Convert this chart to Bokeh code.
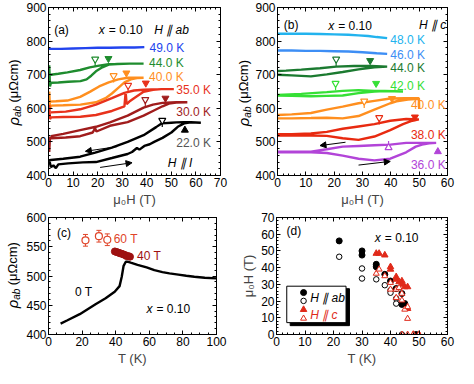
import math
from bokeh.plotting import figure
from bokeh.layouts import row, column
from bokeh.models import (Range1d, LinearAxis, SingleIntervalTicker, Label, Arrow,
                          NormalHead, Whisker, TeeHead, ColumnDataSource)
from bokeh.embed import file_html
from bokeh.resources import INLINE

FONT = "Liberation Sans"

# ---------------- Panel (a): H || ab, field sweeps (up then down) ----------------
a_h49 = [0, 5, 10, 15, 20, 25, 30, 35, 39]
a_r49 = [777, 777, 778, 779, 780, 780, 781, 781, 782]

a_h44 = [0, 0.3, 0.6, 1, 4, 8, 13, 15.5, 17.4, 19.3, 21.9, 24.5, 28, 33, 38.7,
         33, 28, 24.5, 20.6, 16.8, 12.9, 7.7, 4, 1, 0]
a_r44 = [700, 728, 665, 676, 677, 679, 681, 686, 697, 710, 722, 730, 732, 733, 733,
         733, 732, 731, 727, 722, 714, 707, 703, 700, 698]

a_h40 = [0, 0.3, 0.6, 1, 6, 13, 19.3, 23.2, 25.8, 28.4, 30.9, 33.5, 36, 38.7,
         36, 32.2, 28.4, 24.5, 20.6, 16.8, 12.9, 7.7, 3, 0.5]
a_r40 = [615, 650, 600, 608, 609, 611, 618, 630, 644, 661, 677, 686, 690, 691,
         691, 691, 686, 677, 665, 649, 634, 623, 621, 620]

a_h35 = [0, 0.3, 0.6, 1, 6, 13, 19.3, 25.8, 30.9, 31.4, 31.8, 32.9, 34.8, 38.7, 42.5, 46, 51,
         46, 42, 38.7, 34.8, 30.9, 25.8, 19.3, 12.9, 7, 1]
a_r35 = [580, 610, 568, 573, 574, 575, 580, 592, 606, 648, 612, 620, 630, 649, 655, 657, 657,
         657, 656, 655, 653, 646, 630, 611, 597, 590, 588]

a_h30 = [0, 0.3, 0.6, 1, 7, 12.9, 18, 19, 19.5, 25, 32.2, 38.7, 42.5, 46.4, 49, 52, 56.5,
         52, 48, 46.4, 42.5, 38.7, 32.2, 25, 19.3, 12.9, 6, 1]
a_r30 = [510, 470, 515, 511, 513, 517, 528, 540, 531, 548, 559, 578, 592, 606, 614, 617, 618,
         618, 617, 616, 611, 602, 578, 558, 545, 535, 524, 517]

a_h22 = [0, 0.5, 1, 2, 3, 4, 8, 14, 19.3, 25.8, 32.2, 34, 36, 37, 39, 41.2, 43, 46.4, 50,
         52.6, 55.2, 58, 62,
         58, 55, 52, 50, 46, 43.8, 38.7, 32.2, 25.8, 19, 12.9, 6, 1, 0]
a_r22 = [437, 440, 425, 430, 422, 433, 436, 439, 440, 452, 464, 470, 482, 477, 488, 493, 500,
         512, 528, 545, 555, 558, 557,
         559, 559, 558, 557, 555, 544, 520, 500, 483, 468, 456, 450, 446, 445]

a_open_h = [19, 26.5, 32.4, 39.4, 46.3]
a_open_r = [746, 697, 668, 626, 564]
a_fill_h = [24.4, 31.7, 39.6, 47.6]
a_fill_r = [748, 705, 675, 630]
a_up_h = [55.5]
a_up_r = [535]

a_temps = ["49.0 K", "44.0 K", "40.0 K", "35.0 K", "30.0 K", "22.0 K"]
a_colors = ["#2244ee", "#1e8c2e", "#ff8f1f", "#e8321c", "#a01c1c", "black"]
a_label_colors = ["#2244ee", "#1e8c2e", "#ff8f1f", "#e8321c", "#a01c1c", "#555555"]
a_label_h = [41.1, 40.9, 40.9, 52, 52, 52]
a_label_r = [780, 735, 693, 653, 590, 498]

# ---------------- Panel (b): H || c ----------------
b_h48 = [0, 5, 10, 15, 20, 25, 28.6, 32, 35, 38.7]
b_r48 = [822, 822, 822, 821, 820, 819, 817, 815, 812, 809]

b_h46 = [0, 5, 10, 15, 20, 25, 30, 35, 38.7]
b_r46 = [772, 772, 771, 771, 770, 769, 767, 764, 762]

b_h44 = [0, 5, 11.8, 17.4, 23, 28.6, 34.2, 38.7, 33, 27, 20.7, 15, 8.4, 3, 0]
b_r44 = [700, 698, 695, 701, 708, 716, 722, 724, 726, 726, 724, 719, 715, 712, 711]

b_h42 = [0, 5, 11.8, 17.4, 23, 28.6, 34.2, 38, 44.3, 38, 34.2, 28.6, 23, 17.4, 8.4, 0]
b_r42 = [638, 637, 636, 637, 638, 645, 650, 651, 650, 652, 652, 654, 652, 648, 643, 640]

b_h40 = [0, 5, 11.8, 17.4, 23, 28.6, 34.2, 39.8, 42, 46, 49.9, 50, 49.9,
         45, 39.8, 34.2, 28.6, 23, 17.4, 11.8, 5, 0]
b_r40 = [570, 570, 571, 572, 570, 577, 596, 615, 621, 626, 628, 598, 630,
         630, 629, 622, 615, 605, 596, 586, 582, 580]

b_h38 = [0, 5, 11.8, 17.4, 23, 28.6, 34.2, 39.8, 44.3, 47.6, 49.9,
         45.4, 39.8, 34.2, 28.6, 23, 17.4, 11.8, 5, 0]
b_r38 = [519, 519, 519, 518, 511, 506, 516, 535, 553, 563, 567,
         568, 563, 553, 546, 539, 530, 525, 523, 523]

b_h36 = [0, 5, 11.8, 17.4, 23, 28.6, 34.2, 39.8, 45.4, 48.8, 51, 53.5, 56,
         51, 45.4, 39.8, 34.2, 28.6, 23, 17.4, 11.8, 5, 0]
b_r36 = [469, 469, 469, 467, 459, 450, 445, 450, 469, 486, 492, 496, 497,
         497, 497, 492, 490, 488, 486, 478, 471, 471, 471]

b_open_h = [20.7, 20.5, 30.6, 35.9]
b_open_r = [746, 674, 621, 572]
b_fill_h = [32.7, 34.8, 40.4, 48.5]
b_fill_r = [742, 674, 629, 574]
b_up_open_h = [39.2]
b_up_open_r = [483]
b_up_fill_h = [56.6]
b_up_fill_r = [471]

b_temps = ["48.0 K", "46.0 K", "44.0 K", "42.0 K", "40.0 K", "38.0 K", "36.0 K"]
b_colors = ["#22b3ee", "#3d8ef5", "#1b7a30", "#35e035", "#ff8f1f", "#e82a10", "#b244d8"]
b_label_h = [39.8, 39.8, 39.8, 39.8, 47.1, 47.1, 47.1]
b_label_r = [803, 759, 721, 666, 610, 520, 431]

# ---------------- Panel (c): rho(T) ----------------
c_t0 = [7.2, 11, 18.6, 28, 34, 39.4, 42.3, 43.6, 44.7, 46, 47, 48.9, 53, 58.4, 63, 67.8,
        72, 77.3, 82, 86.8, 93, 100]
c_r0 = [418.7, 424, 434.7, 451.8, 462, 473, 482.7, 498.7, 517.4, 524.3, 524.5, 522.7, 519,
        514.7, 510, 506.7, 504.5, 502.4, 500.5, 498.7, 497, 496]
c_t40 = [39.5, 40.5, 41.5, 42.5, 43.5, 44.5, 45.5, 46.5, 47.5, 48.5]
c_r40 = [542, 541, 540, 539, 538, 537, 536, 534, 534, 533]
c_t60 = [22, 30, 35]
c_r60 = [561, 568, 562]
c_e60 = [10, 10, 10]

# ---------------- Panel (d): phase diagram ----------------
d_ab_fill_t = [22, 30, 30, 35, 35, 38, 40, 42, 44, 44, 45, 49]
d_ab_fill_h = [56, 50, 47.5, 42, 40.5, 36, 32, 27.5, 24.5, 18, 18.5, 0]
d_ab_open_t = [22, 30, 30, 35, 38, 40, 40, 42, 42, 44]
d_ab_open_h = [46.5, 39.5, 33.5, 33, 29.5, 26.5, 25, 21.5, 18.5, 0]
d_c_fill_t = [35, 36, 38, 40, 40, 42, 42, 43, 44, 44, 45, 46, 46, 48, 50]
d_c_fill_h = [48.5, 48.5, 47.5, 40.5, 39, 34.5, 33, 31.5, 32, 30, 28.5, 28.5, 15.5, 0, 0]
d_c_open_t = [35, 36, 38, 40, 40, 42, 42, 43, 44, 44, 45, 46, 46, 44, 46, 48, 50]
d_c_open_h = [36.5, 39, 35, 31, 27, 27, 22, 28, 24.5, 20.5, 15, 16.5, 9.5, 0, 0, 0, 0]

RED = "#e02a1a"
LW = 23  # width of the strip holding the rotated y label
CURVE_W = 2.4


def style(p, xint, xminor, yint, yminor):
    p.outline_line_color = "black"
    p.outline_line_width = 1
    p.grid.visible = False
    p.background_fill_color = "white"
    p.border_fill_color = "white"
    bottom = p.below[0]
    left = p.left[0]
    bottom.ticker = SingleIntervalTicker(interval=xint, num_minor_ticks=xminor)
    left.ticker = SingleIntervalTicker(interval=yint, num_minor_ticks=yminor)
    top = LinearAxis(ticker=SingleIntervalTicker(interval=xint, num_minor_ticks=xminor))
    right = LinearAxis(ticker=SingleIntervalTicker(interval=yint, num_minor_ticks=yminor))
    p.add_layout(top, "above")
    p.add_layout(right, "right")
    for ax in [bottom, left, top, right]:
        ax.major_tick_in = 4
        ax.major_tick_out = 0
        ax.minor_tick_in = 2
        ax.minor_tick_out = 0
        ax.axis_line_color = "black"
        ax.major_tick_line_color = "black"
        ax.minor_tick_line_color = "black"
        ax.major_label_text_font = FONT
        ax.major_label_text_font_size = "12px"
        ax.major_label_text_color = "black"
        ax.major_label_standoff = 2
        ax.axis_label_text_font = FONT
        ax.axis_label_text_font_size = "13px"
        ax.axis_label_text_font_style = "normal"
        ax.axis_label_standoff = 2
    for ax in [top, right]:
        ax.major_label_text_font_size = "1px"
        ax.major_label_text_color = None
        ax.major_label_standoff = 0
    return bottom, left


def txt(p, x, y, text, color="black", size="12px", style_="normal", align="left", xo=0):
    p.add_layout(Label(x=x, y=y, text=text, text_color=color, text_font=FONT,
                       text_font_size=size, text_font_style=style_, text_align=align,
                       text_baseline="middle", x_offset=xo))


def xeq(p, x, y, color="black"):
    txt(p, x, y, "x", color, style_="italic")
    txt(p, x, y, "= 0.10", color, xo=10)


def label_strip(height, yr, top, bottom, xc, yc):
    """Narrow figure left of a panel carrying the rotated 'rho_ab (uOhm cm)' label."""
    s = figure(width=LW, height=height, x_range=Range1d(0, LW), y_range=Range1d(*yr),
               output_backend="svg", toolbar_location=None,
               x_axis_location=None, y_axis_location=None,
               min_border_left=0, min_border_right=0, min_border_top=top,
               min_border_bottom=bottom)
    s.outline_line_color = None
    s.grid.visible = False
    s.background_fill_color = "white"
    s.border_fill_color = "white"
    common = dict(x=xc, y=yc, angle=math.pi / 2, text_baseline="middle", text_align="left",
                  text_font=FONT, text_color="black")
    s.add_layout(Label(text="ρ", text_font_size="15px", text_font_style="italic",
                       y_offset=-34, **common))
    s.add_layout(Label(text="ab", text_font_size="10px", text_font_style="italic",
                       y_offset=-25.5, x_offset=4, **common))
    s.add_layout(Label(text="(μΩcm)", text_font_size="13px", y_offset=-11, **common))
    return s


def arrow(p, x0, y0, x1, y1):
    p.add_layout(Arrow(end=NormalHead(size=6, fill_color="black", line_color="black"),
                       x_start=x0, y_start=y0, x_end=x1, y_end=y1,
                       line_color="black", line_width=1))


def open_marker(p, xs, ys, color, marker="inverted_triangle", stem=-20):
    # pin-like open marker: open triangle with a short stem towards the curve
    p.segment(x0=xs, y0=ys, x1=xs, y1=[y + stem for y in ys], line_color=color,
              line_width=1.2)
    p.scatter(xs, ys, marker=marker, size=7, fill_color="white", line_color=color,
              line_width=1.2)


# ================= (a) =================
pa = figure(width=229 - LW, height=209, x_range=Range1d(0, 70), y_range=Range1d(400, 900),
            output_backend="svg", toolbar_location=None,
            min_border_left=45 - LW, min_border_right=9, min_border_top=7, min_border_bottom=32)
ax_b, ax_l = style(pa, 10, 5, 100, 5)
ax_b.axis_label = "μ₀H (T)"
a_curves = [(a_h49, a_r49), (a_h44, a_r44), (a_h40, a_r40), (a_h35, a_r35),
            (a_h30, a_r30), (a_h22, a_r22)]
for (hh, rr), col in zip(a_curves, a_colors):
    pa.line(hh, rr, line_color=col, line_width=CURVE_W)
for i, (hh, rr) in enumerate(zip(a_open_h, a_open_r)):
    open_marker(pa, [hh], [rr], a_colors[i + 1])
for i, (hh, rr) in enumerate(zip(a_fill_h, a_fill_r)):
    pa.scatter([hh], [rr], marker="inverted_triangle", size=7, fill_color=a_colors[i + 1],
               line_color=a_colors[i + 1])
pa.scatter(a_up_h, a_up_r, marker="triangle", size=7, fill_color="black", line_color="black")
for t, c, hh, rr in zip(a_temps, a_label_colors, a_label_h, a_label_r):
    txt(pa, hh, rr, t, c)
txt(pa, 2.3, 832, "(a)")
xeq(pa, 20.5, 832)
txt(pa, 43, 832, "H ∥ ab", style_="italic")
txt(pa, 48.5, 437, "H ∥ I", style_="italic")
arrow(pa, 28, 486, 15, 472)
arrow(pa, 21, 424, 34, 438)
la = label_strip(209, (400, 900), 7, 32, 13, 650)

# ================= (b) =================
pb = figure(width=229 - LW, height=209, x_range=Range1d(0, 60), y_range=Range1d(400, 900),
            output_backend="svg", toolbar_location=None,
            min_border_left=47 - LW, min_border_right=11, min_border_top=7, min_border_bottom=32)
ax_b, ax_l = style(pb, 10, 5, 100, 5)
ax_b.axis_label = "μ₀H (T)"
b_curves = [(b_h48, b_r48), (b_h46, b_r46), (b_h44, b_r44), (b_h42, b_r42),
            (b_h40, b_r40), (b_h38, b_r38), (b_h36, b_r36)]
for (hh, rr), col in zip(b_curves, b_colors):
    pb.line(hh, rr, line_color=col, line_width=CURVE_W)
for i, (hh, rr) in enumerate(zip(b_open_h, b_open_r)):
    open_marker(pb, [hh], [rr], b_colors[i + 2])
for i, (hh, rr) in enumerate(zip(b_fill_h, b_fill_r)):
    pb.scatter([hh], [rr], marker="inverted_triangle", size=7, fill_color=b_colors[i + 2],
               line_color=b_colors[i + 2])
open_marker(pb, b_up_open_h, b_up_open_r, b_colors[6], marker="triangle", stem=20)
pb.scatter(b_up_fill_h, b_up_fill_r, marker="triangle", size=7, fill_color=b_colors[6],
           line_color=b_colors[6])
for t, c, hh, rr in zip(b_temps, b_colors, b_label_h, b_label_r):
    txt(pb, hh, rr, t, c)
txt(pb, 2.2, 847, "(b)")
xeq(pb, 17.9, 844)
txt(pb, 49.9, 847, "H ∥ c", style_="italic")
arrow(pb, 24, 499, 15, 489)
arrow(pb, 28.6, 431, 39.8, 442)
lb = label_strip(209, (400, 900), 7, 32, 14, 648)

# ================= (c) =================
pc = figure(width=229 - LW, height=159, x_range=Range1d(0, 100), y_range=Range1d(400, 600),
            output_backend="svg", toolbar_location=None,
            min_border_left=46 - LW, min_border_right=13, min_border_top=8, min_border_bottom=31)
ax_b, ax_l = style(pc, 20, 4, 50, 5)
ax_b.axis_label = "T (K)"
pc.line(c_t0, c_r0, line_color="black", line_width=2.4)
pc.scatter(c_t40, c_r40, marker="circle", size=7, fill_color="#9e1111", line_color="#9e1111")
src60 = ColumnDataSource(dict(t=c_t60, r=c_r60,
                              up=[r + e for r, e in zip(c_r60, c_e60)],
                              lo=[r - e for r, e in zip(c_r60, c_e60)]))
pc.add_layout(Whisker(base="t", upper="up", lower="lo", source=src60, dimension="height",
                      line_color="#e0452a", line_width=1,
                      upper_head=TeeHead(size=5, line_color="#e0452a", line_width=1),
                      lower_head=TeeHead(size=5, line_color="#e0452a", line_width=1)))
pc.scatter("t", "r", source=src60, marker="circle", size=7, fill_color="white",
           line_color="#e0452a", line_width=1.2)
txt(pc, 5, 574, "(c)")
txt(pc, 38.8, 564, "60 T", "#e0452a")
txt(pc, 52.7, 534, "40 T", "#9e1111")
txt(pc, 15.7, 473, "0 T")
xeq(pc, 58.3, 443)
lc = label_strip(159, (400, 600), 8, 31, 12, 503)

# ================= (d) =================
pd_ = figure(width=229, height=159, x_range=Range1d(0, 60), y_range=Range1d(0, 70),
             output_backend="svg", toolbar_location=None,
             min_border_left=47, min_border_right=11, min_border_top=7, min_border_bottom=31)
ax_b, ax_l = style(pd_, 10, 5, 10, 5)
ax_b.axis_label = "T (K)"
ax_l.axis_label = "μ₀H (T)"
# legend frame with drop shadow (layout, not data)
pd_.quad(left=[4.8], right=[25.6], bottom=[5.3], top=[27.4], fill_color="black",
         line_color="black")
pd_.quad(left=[3.6], right=[24.4], bottom=[7.1], top=[28.9], fill_color="white",
         line_color="black", line_width=1)
pd_.scatter(d_ab_fill_t, d_ab_fill_h, marker="circle", size=6, fill_color="black",
            line_color="black")
pd_.scatter(d_ab_open_t, d_ab_open_h, marker="circle", size=5.5, fill_color="white",
            line_color="black", line_width=1)
pd_.scatter(d_c_fill_t, d_c_fill_h, marker="triangle", size=6.5, fill_color=RED,
            line_color=RED)
pd_.scatter(d_c_open_t, d_c_open_h, marker="triangle", size=6, fill_color="white",
            line_color=RED, line_width=1)
pd_.scatter([9.5], [25.1], marker="circle", size=6, fill_color="black", line_color="black")
pd_.scatter([9.5], [20.1], marker="circle", size=5.5, fill_color="white", line_color="black")
pd_.scatter([9.5], [14.9], marker="triangle", size=6.5, fill_color=RED, line_color=RED)
pd_.scatter([9.5], [9.6], marker="triangle", size=6, fill_color="white", line_color=RED)
txt(pd_, 11.8, 21.6, "H ∥ ab", style_="italic")
txt(pd_, 11.8, 11.6, "H ∥ c", RED, style_="italic")
txt(pd_, 3.5, 62, "(d)")
xeq(pd_, 34.5, 58)

layout = column(row(la, pa, lb, pb), row(lc, pc, pd_))
open("out.html", "w").write(file_html(layout, INLINE))
